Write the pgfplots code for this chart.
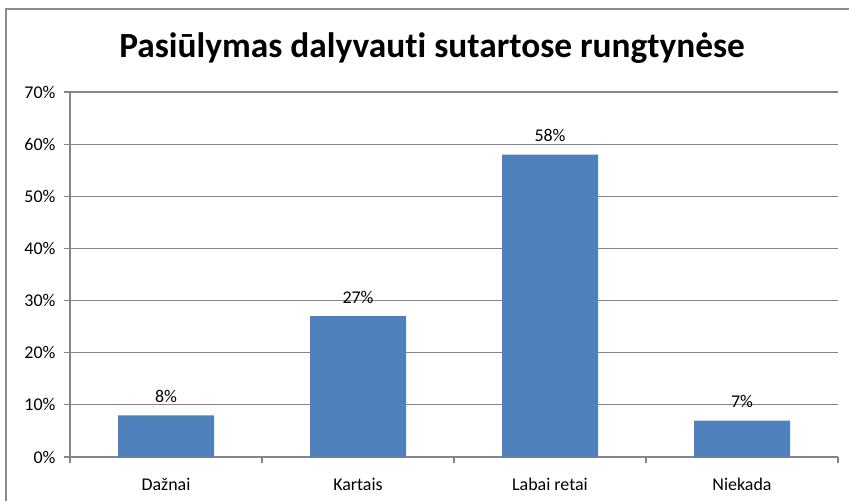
\documentclass[border=0pt]{standalone}
\usepackage{pgfplots}
\pgfplotsset{compat=1.18}
\usepackage{fontspec}
\setmainfont{Carlito}[Ligatures={NoCommon}]
\definecolor{barblue}{HTML}{4F81BD}
\definecolor{gridgray}{HTML}{868686}
\definecolor{bordergray}{HTML}{8C8C8C}
\begin{document}
\begin{tikzpicture}
\useasboundingbox (0,0) rectangle (849bp,501bp);
\begin{scope}
\clip (0,0) rectangle (849bp,501bp);
\draw[bordergray, line width=2bp] (6bp,-5bp) -- (6bp,492bp) -- (860bp,492bp);
\end{scope}
\node[font=\fontsize{35.5}{40}\selectfont\bfseries] at (432bp,453bp) {Pasiūlymas dalyvauti sutartose rungtynėse};
\begin{axis}[
  at={(70bp,44bp)}, anchor=south west,
  scale only axis, width=768bp, height=365bp,
  xmin=-0.5, xmax=3.5, ymin=0, ymax=70,
  ytick={0,10,...,70},
  yticklabel={\pgfmathprintnumber{\tick}\%},
  yticklabel style={font=\fontsize{18}{20}\selectfont, xshift=-5bp},
  xtick={0,1,2,3},
  xticklabels={Dažnai,Kartais,Labai retai,Niekada},
  xticklabel style={font=\fontsize{18}{20}\selectfont, yshift=-12bp},
  /pgf/number format/assume math mode=true,
  extra x ticks={-0.5,0.5,1.5,2.5,3.5},
  extra x tick labels={},
  extra x tick style={grid=none, xtick style={draw=gridgray, line width=1.2bp}},
  major tick length=6bp,
  xtick style={draw=none},
  ytick style={draw=gridgray, line width=1.2bp},
  tick align=outside,
  ymajorgrids, grid style={gridgray, line width=1.2bp},
  axis x line*=bottom, axis y line*=left,
  axis line style={gridgray, line width=1.2bp, -},
  ybar, bar width=96bp,
  nodes near coords={\pgfplotspointmeta\%},
  nodes near coords style={font=\fontsize{18}{20}\selectfont, yshift=9bp},
  point meta=explicit symbolic,
  clip=false,
]
\addplot[fill=barblue, draw=none] coordinates {(0,8) [8] (1,27) [27] (2,58) [58] (3,7) [7]};
\end{axis}
\end{tikzpicture}
\end{document}
